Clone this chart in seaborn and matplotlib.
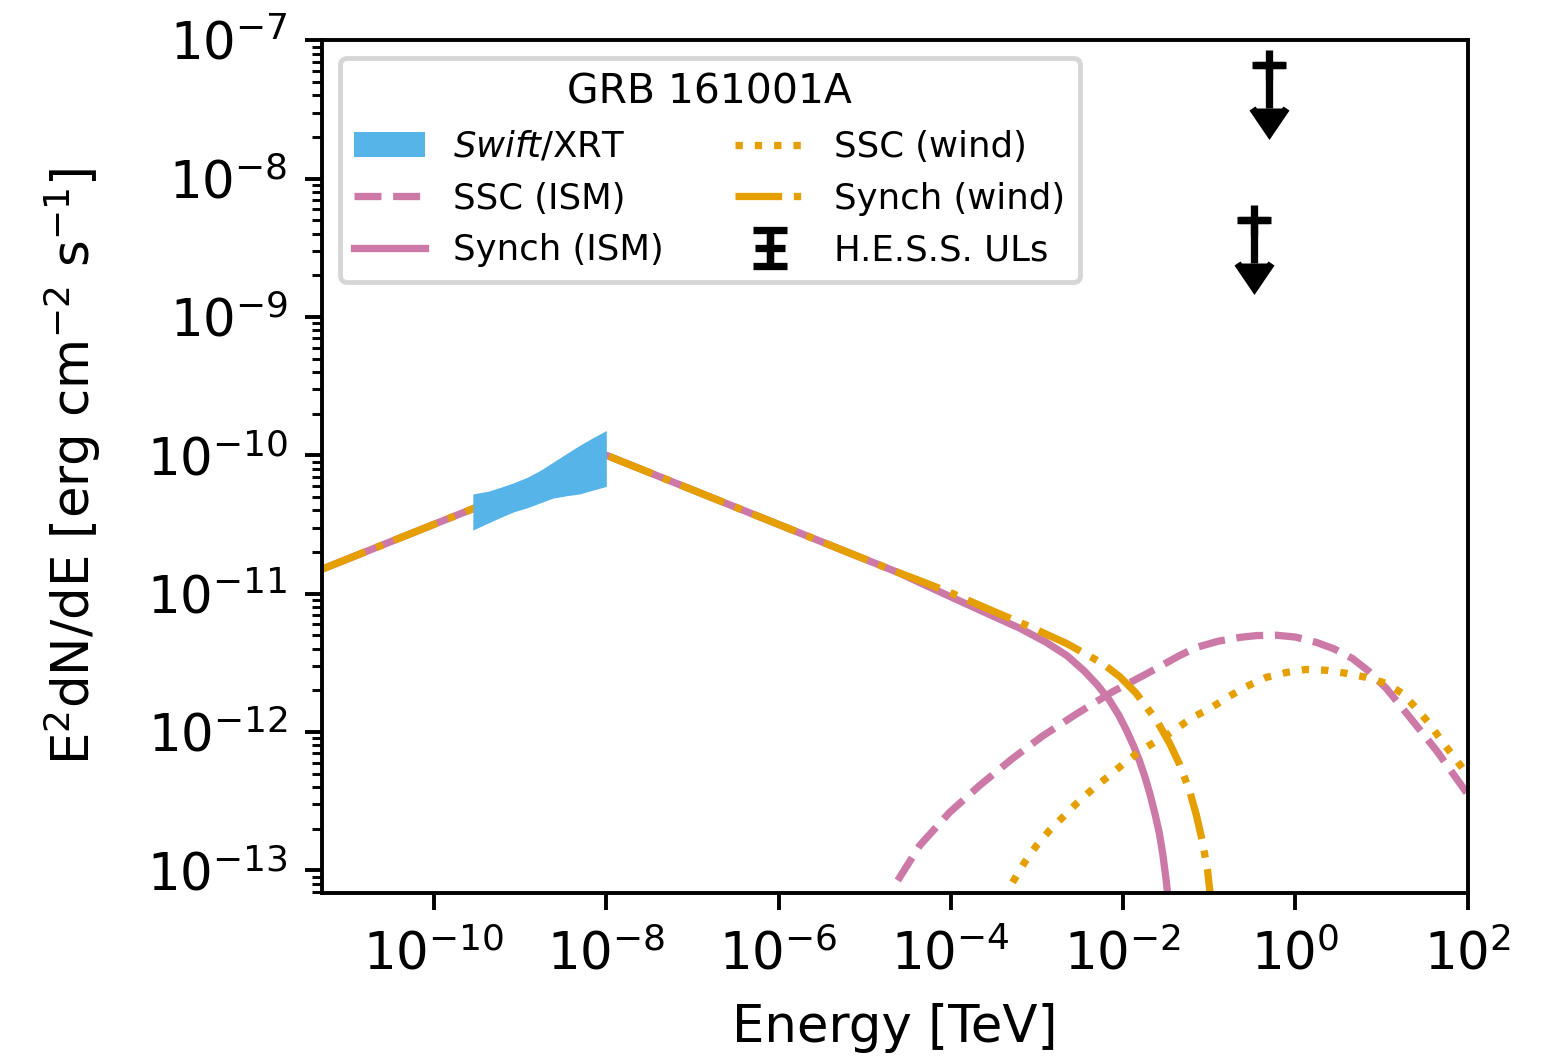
import numpy as np
import pandas as pd
import matplotlib
matplotlib.use("Agg")
import matplotlib.pyplot as plt
import seaborn as sns
from matplotlib.ticker import FixedLocator, NullLocator, LogLocator

# ---------------------------------------------------------------------------
# GRB 161001A broadband SED (energies in TeV, fluxes in erg cm^-2 s^-1)
# ---------------------------------------------------------------------------

# Swift/XRT butterfly
xrt_e = [2.82e-10, 4.27e-10, 5.89e-10, 8.32e-10, 1.20e-9, 1.70e-9,
         2.40e-9, 3.47e-9, 4.90e-9, 7.00e-9, 1.0e-8]
xrt_lo = [2.88e-11, 3.24e-11, 3.55e-11, 3.89e-11, 4.17e-11, 4.52e-11,
          4.90e-11, 5.10e-11, 5.25e-11, 5.60e-11, 5.95e-11]
xrt_hi = [5.25e-11, 5.50e-11, 5.86e-11, 6.31e-11, 6.92e-11, 7.76e-11,
          8.90e-11, 1.03e-10, 1.18e-10, 1.34e-10, 1.51e-10]

# Synchrotron, ISM model
syn_ism_e = [5.0e-12, 1.0e-8, 1.0e-6, 2.51e-5, 4.37e-5, 1.05e-4, 2.57e-4,
             6.31e-4, 1.26e-3, 2.24e-3, 3.55e-3, 5.01e-3, 6.92e-3, 8.91e-3,
             1.10e-2, 1.32e-2, 1.55e-2, 1.78e-2, 2.04e-2, 2.34e-2, 2.63e-2,
             2.88e-2, 3.16e-2, 3.39e-2]
syn_ism_f = [1.50e-11, 1.0e-10, 3.16e-11, 1.41e-11, 1.20e-11, 9.33e-12,
             7.24e-12, 5.62e-12, 4.47e-12, 3.55e-12, 2.75e-12, 2.19e-12,
             1.70e-12, 1.32e-12, 1.02e-12, 7.94e-13, 6.17e-13, 4.79e-13,
             3.59e-13, 2.57e-13, 1.86e-13, 1.32e-13, 8.51e-14, 5.62e-14]

# Synchrotron, wind model
syn_wind_e = [5.0e-12, 1.0e-8, 1.0e-6, 2.51e-5, 4.37e-5, 1.05e-4, 2.57e-4,
              7.59e-4, 2.19e-3, 5.75e-3, 9.12e-3, 1.41e-2, 2.45e-2, 3.47e-2,
              4.47e-2, 5.89e-2, 7.08e-2, 8.32e-2, 9.55e-2, 1.02e-1, 1.10e-1]
syn_wind_f = [1.50e-11, 1.0e-10, 3.16e-11, 1.41e-11, 1.24e-11, 1.0e-11,
              7.85e-12, 5.89e-12, 4.37e-12, 3.13e-12, 2.51e-12, 1.91e-12,
              1.21e-12, 8.26e-13, 5.92e-13, 3.78e-13, 2.51e-13, 1.62e-13,
              1.0e-13, 6.92e-14, 4.5e-14]

# Synchrotron self-Compton, ISM model
ssc_ism_e = [2.42e-5, 4.35e-5, 9.68e-5, 2.16e-4, 5.21e-4, 1.16e-3,
             2.88e-3, 7.53e-3, 1.87e-2, 4.47e-2, 7.10e-2, 1.26e-1,
             2.24e-1, 3.55e-1, 6.03e-1, 1.0, 1.75, 2.82, 4.58, 7.08,
             11.4, 22.8, 43.3, 100.0]
ssc_ism_f = [8.43e-14, 1.51e-13, 2.62e-13, 4.10e-13, 6.43e-13, 9.33e-13,
             1.35e-12, 1.95e-12, 2.63e-12, 3.55e-12, 4.08e-12, 4.52e-12,
             4.82e-12, 4.97e-12, 5.0e-12, 4.85e-12, 4.44e-12, 3.98e-12,
             3.40e-12, 2.75e-12, 2.06e-12, 1.21e-12, 7.35e-13, 3.55e-13]

# Synchrotron self-Compton, wind model
ssc_wind_e = [5.21e-4, 7.18e-4, 9.89e-4, 1.40e-3, 2.09e-3, 2.96e-3,
              4.66e-3, 6.95e-3, 1.09e-2, 1.68e-2, 3.45e-2, 6.38e-2,
              1.06e-1, 1.71e-1, 2.70e-1, 4.61e-1, 7.87e-1, 1.34, 2.29,
              3.91, 6.67, 11.4, 17.4, 25.4, 35.9, 49.4, 70.0, 98.9]
ssc_wind_f = [8.17e-14, 1.14e-13, 1.51e-13, 1.94e-13, 2.49e-13, 3.09e-13,
              3.97e-13, 4.84e-13, 6.12e-13, 7.46e-13, 9.75e-13, 1.27e-12,
              1.50e-12, 1.81e-12, 2.13e-12, 2.48e-12, 2.69e-12, 2.83e-12,
              2.79e-12, 2.65e-12, 2.48e-12, 2.24e-12, 1.90e-12, 1.48e-12,
              1.15e-12, 8.69e-13, 6.55e-13, 4.93e-13]

# H.E.S.S. upper limits
hess_e = [0.33, 0.49]
hess_ul = [5.0e-9, 6.6e-8]
hess_err = [2.55e-9, 3.37e-8]

# Axis ticks and limits
x_ticks = [1e-10, 1e-8, 1e-6, 1e-4, 1e-2, 1e0, 1e2]
y_ticks = [1e-13, 1e-12, 1e-11, 1e-10, 1e-9, 1e-8, 1e-7]
x_range = (5.0e-12, 1.0e2)
y_range = (6.9e-14, 1.0e-7)

# Colours (Okabe-Ito)
c_ism = "#CC79A7"
c_wind = "#E69F00"
c_xrt = "#56B4E9"

# ---------------------------------------------------------------------------
S = 3.5  # scale factor for a small paper figure rendered large
plt.rcParams.update({
    "font.family": ["DejaVu Sans"],
    "font.size": 10 * S,
    "axes.labelsize": 37,
    "xtick.labelsize": 37,
    "ytick.labelsize": 37,
    "axes.linewidth": 0.8 * S,
    "lines.linewidth": 1.5 * S,
    "xtick.major.size": 3.5 * S,
    "ytick.major.size": 3.5 * S,
    "xtick.minor.size": 2 * S,
    "ytick.minor.size": 2 * S,
    "xtick.major.width": 0.8 * S,
    "ytick.major.width": 0.8 * S,
    "xtick.minor.width": 0.6 * S,
    "ytick.minor.width": 0.6 * S,
    "xtick.major.pad": 4.2 * S,
    "ytick.major.pad": 3.5 * S,
    "axes.labelpad": 4 * S,
    "legend.fontsize": 7.3 * S,
    "legend.title_fontsize": 8.4 * S,
    "patch.linewidth": 1.0 * S,
})

fig = plt.figure(figsize=(15.63, 10.6), dpi=100)
ax = fig.add_axes([0.206, 0.158, 0.733, 0.804])
ax.set_xscale("log")
ax.set_yscale("log")

# Model curves
sns.lineplot(x=ssc_ism_e, y=ssc_ism_f, ax=ax, color=c_ism, linestyle="--",
             sort=False, estimator=None)
h_ssc_ism = ax.lines[-1]
sns.lineplot(x=syn_ism_e, y=syn_ism_f, ax=ax, color=c_ism, linestyle="-",
             sort=False, estimator=None)
h_syn_ism = ax.lines[-1]
sns.lineplot(x=ssc_wind_e, y=ssc_wind_f, ax=ax, color=c_wind, linestyle=":",
             sort=False, estimator=None)
h_ssc_wind = ax.lines[-1]
sns.lineplot(x=syn_wind_e, y=syn_wind_f, ax=ax, color=c_wind, linestyle="-.",
             sort=False, estimator=None)
h_syn_wind = ax.lines[-1]

# X-ray butterfly
h_xrt = ax.fill_between(xrt_e, xrt_lo, xrt_hi, color=c_xrt, linewidth=0,
                        zorder=3)

# Upper limits
h_hess = ax.errorbar(hess_e, hess_ul, yerr=hess_err, uplims=True, fmt="+",
                     color="k", markersize=6 * S, markeredgewidth=1.5 * S,
                     elinewidth=1.5 * S, capsize=3.4 * S, capthick=1.5 * S)

ax.set_xlim(*x_range)
ax.set_ylim(*y_range)
ax.xaxis.set_major_locator(FixedLocator(x_ticks))
ax.xaxis.set_minor_locator(NullLocator())
ax.yaxis.set_major_locator(FixedLocator(y_ticks))
ax.yaxis.set_minor_locator(LogLocator(base=10, subs=np.arange(2, 10), numticks=100))

ax.set_xlabel("Energy [TeV]", labelpad=4.5 * S)
ax.set_ylabel(r"E$^2$dN/dE [erg cm$^{-2}$ s$^{-1}$]", labelpad=9 * S)

handles = [h_xrt, h_ssc_ism, h_syn_ism, h_ssc_wind, h_syn_wind, h_hess]
labels = [r"$\it{Swift}$/XRT", "SSC (ISM)", "Synch (ISM)",
          "SSC (wind)", "Synch (wind)", "H.E.S.S. ULs"]
ax.legend(handles, labels, ncol=2, loc="upper left", title="GRB 161001A")

fig.savefig("out.png", dpi=100)
